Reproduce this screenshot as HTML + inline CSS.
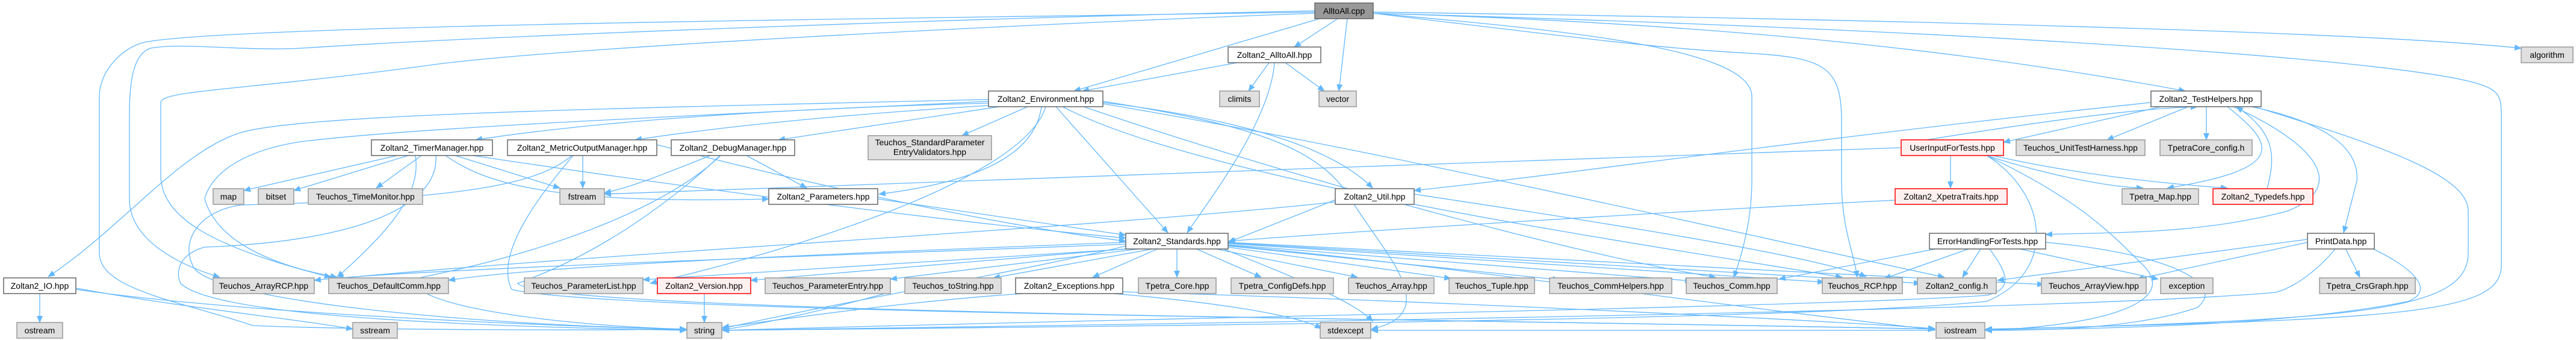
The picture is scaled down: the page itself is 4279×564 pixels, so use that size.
<!DOCTYPE html>
<html><head><meta charset="utf-8"><style>
html,body{margin:0;padding:0;background:#fff;}
svg{display:block;}
text{font-family:"Liberation Sans","DejaVu Sans",sans-serif;font-size:14px;fill:#000;}
.e{fill:none;stroke:#63B8FF;stroke-width:1.3;marker-end:url(#ah);}
.n{fill:#fff;stroke:#666;stroke-width:1.5;}
.g{fill:#E0E0E0;stroke:#999;stroke-width:1.5;}
.r{fill:#FFF0F0;stroke:#FF0000;stroke-width:1.5;}
.root{fill:#999;stroke:#666;stroke-width:1.5;}
</style></head><body>
<svg width="4279" height="564" viewBox="0 0 4279 564" xmlns="http://www.w3.org/2000/svg">
<defs><marker id="ah" markerWidth="12" markerHeight="10" refX="11" refY="5" orient="auto" markerUnits="userSpaceOnUse"><path d="M0,0 L12,5 L0,10 z" fill="#63B8FF"/></marker></defs>
<g>
<!-- AlltoAll.cpp -->
<path class="e" d="M2222,31 L2150,78"/>
<path class="e" d="M2192,31 L1784,151"/>
<path class="e" d="M2238,31 L2224,151"/>
<path class="e" d="M2281,20 C3000,30 3900,50 4188,80"/>
<path class="e" d="M2281,22 C2900,40 3300,90 3630,151"/>
<path class="e" d="M2281,22 C3300,50 4000,100 4120,140 C4150,150 4155,160 4155,190 L4155,440 C4155,520 4000,530 3298,546"/>
<path class="e" d="M2281,22 C2600,50 2910,80 2910,160 L2910,300 C2910,360 2895,420 2880,460"/>
<path class="e" d="M2281,22 C2600,60 2750,80 2900,88 C3030,95 3059,110 3059,200 L3059,300 C3059,380 3080,420 3085,460"/>
<path class="e" d="M2184,20 C1600,30 400,40 240,70 C200,80 165,120 165,160 L165,420 C165,480 300,500 420,540 C600,548 1000,548 1140,546"/>
<path class="e" d="M2184,18 C1600,30 800,60 500,80 C400,85 300,70 250,80 C220,90 215,140 215,190 L215,330 C215,400 300,440 365,460"/>
<path class="e" d="M2184,22 C1700,40 900,80 700,110 C400,150 267,150 267,170 L267,290 C267,360 350,410 550,460"/>
<!-- Zoltan2_AlltoAll.hpp -->
<path class="e" d="M2055,104 L1798,151"/>
<path class="e" d="M2108,104 L2074,151"/>
<path class="e" d="M2135,104 L2200,151"/>
<path class="e" d="M2117,104 C2110,200 2010,330 1972,386"/>
<!-- Environment -->
<path class="e" d="M1642,171 C1300,180 1000,200 790,232"/>
<path class="e" d="M1642,175 C1400,190 1200,210 1055,232"/>
<path class="e" d="M1660,177 L1293,232"/>
<path class="e" d="M1707,177 L1598,225"/>
<path class="e" d="M1730,177 C1720,250 1640,300 1460,322"/>
<path class="e" d="M1754,177 L1940,386"/>
<path class="e" d="M1642,165 C1000,180 500,190 400,220 C300,250 200,380 80,459"/>
<path class="e" d="M1642,168 C1200,190 700,210 500,235 C400,250 350,290 340,330 C360,400 450,440 560,460"/>
<path class="e" d="M1832,170 C2000,190 2200,230 2280,312"/>
<path class="e" d="M1765,177 C2000,300 2700,400 3060,460"/>
<path class="e" d="M1832,172 C2300,250 2900,390 3230,460"/>
<path class="e" d="M1800,177 C2100,280 2600,420 2850,460"/>
<path class="e" d="M1737,177 C1700,300 1300,420 1080,470"/>
<path class="e" d="M1832,168 C2100,210 2200,250 2250,340 C2300,420 2400,520 2278,546"/>
<!-- TimerManager -->
<path class="e" d="M660,258 L405,316"/>
<path class="e" d="M678,258 L488,316"/>
<path class="e" d="M700,258 L625,312"/>
<path class="e" d="M756,258 L930,312"/>
<path class="e" d="M785,258 C1200,320 1600,370 1870,395"/>
<path class="e" d="M740,258 C800,300 900,340 1277,330"/>
<path class="e" d="M724,258 C730,340 600,400 340,410 C300,420 290,450 300,470 C350,520 700,540 1140,548"/>
<path class="e" d="M690,258 C700,320 650,380 560,460"/>
<!-- MetricOutputManager -->
<path class="e" d="M968,258 L968,312"/>
<path class="e" d="M950,258 C900,300 800,330 400,340 C330,350 300,400 320,440 C340,500 800,540 1140,546"/>
<path class="e" d="M952,258 C900,320 820,420 850,480 C1000,520 2500,530 3214,546"/>
<path class="e" d="M1091,240 C1400,320 1700,380 1870,400"/>
<!-- DebugManager -->
<path class="e" d="M1240,258 L1340,312"/>
<path class="e" d="M1180,258 C1100,290 1050,310 1004,320"/>
<path class="e" d="M1196,258 C1120,330 1000,420 860,470 C900,520 2500,530 3214,546"/>
<path class="e" d="M1197,258 C1100,350 900,420 700,460 C650,500 900,540 1140,546"/>
<!-- Parameters -->
<path class="e" d="M1458,330 L1870,390"/>
<!-- Util -->
<path class="e" d="M2222,330 L2040,402"/>
<path class="e" d="M2349,322 C2600,360 3000,420 3100,459"/>
<path class="e" d="M2218,335 C1800,380 1000,420 560,462"/>
<!-- UserInputForTests -->
<path class="e" d="M3158,245 C2500,270 1500,300 1004,322"/>
<path class="e" d="M3240,258 L3240,312"/>
<path class="e" d="M3300,258 C3400,290 3500,310 3560,312"/>
<path class="e" d="M3310,258 C3450,290 3600,305 3700,312"/>
<path class="e" d="M3300,258 C3450,330 3500,380 3560,440 C3620,500 3500,540 3298,548"/>
<path class="e" d="M3300,258 C3400,320 3420,450 3300,500 C3000,530 2000,540 1200,548"/>
<path class="e" d="M3200,232 C3400,200 3550,180 3650,177"/>
<!-- TestHelpers -->
<path class="e" d="M3590,177 L3328,236"/>
<path class="e" d="M3573,170 C3000,230 2600,290 2349,316"/>
<path class="e" d="M3635,177 L3500,232"/>
<path class="e" d="M3665,177 L3665,232"/>
<path class="e" d="M3700,177 C3780,240 3800,280 3600,312"/>
<path class="e" d="M3766,312 C3780,260 3780,220 3715,177"/>
<path class="e" d="M3710,177 C3850,240 3900,310 3800,350 C3650,390 3500,385 3398,389"/>
<path class="e" d="M3740,177 C3850,200 3920,240 3915,300 L3893,386"/>
<path class="e" d="M3745,177 C3950,240 4100,290 4100,350 L4100,420 C4100,520 3900,530 3298,547"/>
<!-- XpetraTraits -->
<path class="e" d="M3148,332 C2800,350 2300,380 2041,400"/>
<!-- Standards -->
<path class="e" d="M1870,402 C1400,420 900,440 745,465"/>
<path class="e" d="M1870,405 C1500,420 700,445 522,465"/>
<path class="e" d="M1890,412 L1068,464"/>
<path class="e" d="M1880,412 L1247,465"/>
<path class="e" d="M1900,412 L1479,463"/>
<path class="e" d="M1920,412 L1650,461"/>
<path class="e" d="M1925,412 L1815,460"/>
<path class="e" d="M1955,412 L1955,460"/>
<path class="e" d="M1985,412 L2095,460"/>
<path class="e" d="M2015,412 L2255,460"/>
<path class="e" d="M2040,410 L2410,462"/>
<path class="e" d="M2040,408 L2590,464"/>
<path class="e" d="M2040,406 L2810,466"/>
<path class="e" d="M2040,404 L3030,468"/>
<path class="e" d="M2040,403 L3190,470"/>
<path class="e" d="M2040,402 L3395,472"/>
<path class="e" d="M1870,408 C1700,450 1400,500 1200,545"/>
<path class="e" d="M2040,407 C2400,440 2800,500 3214,547"/>
<path class="e" d="M2030,412 C2150,460 2250,500 2280,533"/>
<!-- ErrorHandling -->
<path class="e" d="M3215,413 L2955,463"/>
<path class="e" d="M3270,413 L3130,462"/>
<path class="e" d="M3290,413 L3260,460"/>
<path class="e" d="M3355,413 L3585,463"/>
<path class="e" d="M3305,413 C3340,460 3340,480 3300,490 C3000,510 2000,525 1200,548"/>
<path class="e" d="M3398,402 C3600,420 3700,470 3650,510 C3550,545 3400,548 3298,548"/>
<!-- PrintData -->
<path class="e" d="M3833,397 L3318,465"/>
<path class="e" d="M3833,402 L3550,463"/>
<path class="e" d="M3896,412 L3920,460"/>
<path class="e" d="M3880,412 C3840,460 3800,480 3780,485 C3500,510 2500,530 1200,548"/>
<path class="e" d="M3940,412 C4000,440 4050,480 4000,500 C3800,540 3500,545 3298,548"/>
<!-- Exceptions -->
<path class="e" d="M1700,487 C1500,500 1300,530 1200,543"/>
<path class="e" d="M1850,487 C2000,500 2150,520 2195,545"/>
<path class="e" d="M1865,484 C2400,500 3000,530 3214,545"/>
<!-- Version -->
<path class="e" d="M1170,487 L1170,535"/>
<!-- IO -->
<path class="e" d="M66,487 L66,535"/>
<path class="e" d="M126,478 C300,510 500,530 586,546"/>
<path class="e" d="M126,480 C400,520 900,540 1140,547"/>
<!-- others to string -->
<path class="e" d="M1470,487 C1350,520 1250,540 1200,547"/>
<path class="e" d="M3214,548 C2800,548 2400,548 2278,548"/>
</g>
<g>
<rect class="root" x="2184" y="5" width="97" height="26"/><text x="2232.5" y="23" text-anchor="middle">AlltoAll.cpp</text>
<rect class="n" x="2040" y="78" width="154" height="26"/><text x="2117" y="96" text-anchor="middle">Zoltan2_AlltoAll.hpp</text>
<rect class="g" x="4188" y="78" width="86" height="26"/><text x="4231" y="96" text-anchor="middle">algorithm</text>
<rect class="n" x="1642" y="151" width="190" height="26"/><text x="1737" y="169" text-anchor="middle">Zoltan2_Environment.hpp</text>
<rect class="g" x="2026" y="151" width="66" height="26"/><text x="2059" y="169" text-anchor="middle">climits</text>
<rect class="g" x="2191" y="151" width="62" height="26"/><text x="2222" y="169" text-anchor="middle">vector</text>
<rect class="n" x="3573" y="151" width="183" height="26"/><text x="3664.5" y="169" text-anchor="middle">Zoltan2_TestHelpers.hpp</text>
<rect class="n" x="617" y="232" width="201" height="26"/><text x="717.5" y="250" text-anchor="middle">Zoltan2_TimerManager.hpp</text>
<rect class="n" x="843" y="232" width="248" height="26"/><text x="967" y="250" text-anchor="middle">Zoltan2_MetricOutputManager.hpp</text>
<rect class="n" x="1115" y="232" width="205" height="26"/><text x="1217.5" y="250" text-anchor="middle">Zoltan2_DebugManager.hpp</text>
<rect class="g" x="1442" y="225" width="205" height="40"/><text x="1544.5" y="241" text-anchor="middle">Teuchos_StandardParameter</text><text x="1544.5" y="257" text-anchor="middle">EntryValidators.hpp</text>
<rect class="r" x="3158" y="232" width="170" height="26"/><text x="3243" y="250" text-anchor="middle">UserInputForTests.hpp</text>
<rect class="g" x="3349" y="232" width="214" height="26"/><text x="3456" y="250" text-anchor="middle">Teuchos_UnitTestHarness.hpp</text>
<rect class="g" x="3588" y="232" width="153" height="26"/><text x="3664.5" y="250" text-anchor="middle">TpetraCore_config.h</text>
<rect class="g" x="354" y="313" width="51" height="26"/><text x="379.5" y="331" text-anchor="middle">map</text>
<rect class="g" x="429" y="313" width="59" height="26"/><text x="458.5" y="331" text-anchor="middle">bitset</text>
<rect class="g" x="512" y="313" width="190" height="26"/><text x="607" y="331" text-anchor="middle">Teuchos_TimeMonitor.hpp</text>
<rect class="g" x="930" y="313" width="74" height="26"/><text x="967" y="331" text-anchor="middle">fstream</text>
<rect class="n" x="1277" y="313" width="181" height="26"/><text x="1367.5" y="331" text-anchor="middle">Zoltan2_Parameters.hpp</text>
<rect class="n" x="2218" y="313" width="131" height="26"/><text x="2283.5" y="331" text-anchor="middle">Zoltan2_Util.hpp</text>
<rect class="r" x="3148" y="313" width="186" height="26"/><text x="3241" y="331" text-anchor="middle">Zoltan2_XpetraTraits.hpp</text>
<rect class="g" x="3525" y="313" width="127" height="26"/><text x="3588.5" y="331" text-anchor="middle">Tpetra_Map.hpp</text>
<rect class="r" x="3676" y="313" width="166" height="26"/><text x="3759" y="331" text-anchor="middle">Zoltan2_Typedefs.hpp</text>
<rect class="n" x="1870" y="387" width="170" height="26"/><text x="1955" y="405" text-anchor="middle">Zoltan2_Standards.hpp</text>
<rect class="n" x="3205" y="387" width="193" height="26"/><text x="3301.5" y="405" text-anchor="middle">ErrorHandlingForTests.hpp</text>
<rect class="n" x="3833" y="387" width="111" height="26"/><text x="3888.5" y="405" text-anchor="middle">PrintData.hpp</text>
<rect class="n" x="6" y="461" width="120" height="26"/><text x="66" y="479" text-anchor="middle">Zoltan2_IO.hpp</text>
<rect class="g" x="354" y="461" width="168" height="26"/><text x="438" y="479" text-anchor="middle">Teuchos_ArrayRCP.hpp</text>
<rect class="g" x="546" y="461" width="199" height="26"/><text x="645.5" y="479" text-anchor="middle">Teuchos_DefaultComm.hpp</text>
<rect class="g" x="871" y="461" width="197" height="26"/><text x="969.5" y="479" text-anchor="middle">Teuchos_ParameterList.hpp</text>
<rect class="r" x="1092" y="461" width="155" height="26"/><text x="1169.5" y="479" text-anchor="middle">Zoltan2_Version.hpp</text>
<rect class="g" x="1271" y="461" width="208" height="26"/><text x="1375" y="479" text-anchor="middle">Teuchos_ParameterEntry.hpp</text>
<rect class="g" x="1503" y="461" width="160" height="26"/><text x="1583" y="479" text-anchor="middle">Teuchos_toString.hpp</text>
<rect class="n" x="1687" y="461" width="178" height="26"/><text x="1776" y="479" text-anchor="middle">Zoltan2_Exceptions.hpp</text>
<rect class="g" x="1891" y="461" width="129" height="26"/><text x="1955.5" y="479" text-anchor="middle">Tpetra_Core.hpp</text>
<rect class="g" x="2045" y="461" width="170" height="26"/><text x="2130" y="479" text-anchor="middle">Tpetra_ConfigDefs.hpp</text>
<rect class="g" x="2240" y="461" width="142" height="26"/><text x="2311" y="479" text-anchor="middle">Teuchos_Array.hpp</text>
<rect class="g" x="2407" y="461" width="142" height="26"/><text x="2478" y="479" text-anchor="middle">Teuchos_Tuple.hpp</text>
<rect class="g" x="2574" y="461" width="203" height="26"/><text x="2675.5" y="479" text-anchor="middle">Teuchos_CommHelpers.hpp</text>
<rect class="g" x="2801" y="461" width="151" height="26"/><text x="2876.5" y="479" text-anchor="middle">Teuchos_Comm.hpp</text>
<rect class="g" x="3027" y="461" width="133" height="26"/><text x="3093.5" y="479" text-anchor="middle">Teuchos_RCP.hpp</text>
<rect class="g" x="3185" y="461" width="131" height="26"/><text x="3250.5" y="479" text-anchor="middle">Zoltan2_config.h</text>
<rect class="g" x="3391" y="461" width="174" height="26"/><text x="3478" y="479" text-anchor="middle">Teuchos_ArrayView.hpp</text>
<rect class="g" x="3589" y="461" width="87" height="26"/><text x="3632.5" y="479" text-anchor="middle">exception</text>
<rect class="g" x="3853" y="461" width="159" height="26"/><text x="3932.5" y="479" text-anchor="middle">Tpetra_CrsGraph.hpp</text>
<rect class="g" x="28" y="535" width="76" height="26"/><text x="66" y="553" text-anchor="middle">ostream</text>
<rect class="g" x="586" y="535" width="74" height="26"/><text x="623" y="553" text-anchor="middle">sstream</text>
<rect class="g" x="1141" y="535" width="58" height="26"/><text x="1170" y="553" text-anchor="middle">string</text>
<rect class="g" x="2193" y="535" width="84" height="26"/><text x="2235" y="553" text-anchor="middle">stdexcept</text>
<rect class="g" x="3216" y="535" width="81" height="26"/><text x="3256.5" y="553" text-anchor="middle">iostream</text>
</g>
</svg>
</body></html>
